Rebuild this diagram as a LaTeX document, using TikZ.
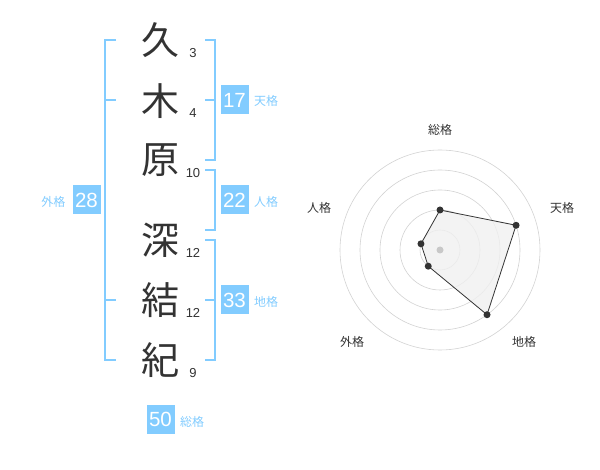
\documentclass[tikz,border=0pt]{standalone}
\usepackage{fontspec}
\usetikzlibrary{calc}
\setmainfont{Liberation Sans}
\newfontfamily\jp{Noto Sans CJK JP}
\definecolor{skyb}{HTML}{82CCFF}
\definecolor{dark}{HTML}{333333}
\definecolor{ring}{HTML}{D2D2D2}
\definecolor{centerdot}{HTML}{C8C8C8}
\definecolor{polyfill}{HTML}{F0F0F0}
\begin{document}
\begin{tikzpicture}[x=1pt,y=-1pt,
  kanji/.style={font=\jp\fontsize{38}{38}\selectfont, text=dark, inner sep=0pt},
  strokes/.style={font=\fontsize{13}{13}\selectfont, text=dark, inner sep=0pt},
  bracketline/.style={draw=skyb, line width=2pt},
  valbox/.style={fill=skyb, text=white, minimum width=28pt, minimum height=29pt, inner sep=0pt, font=\fontsize{20.5}{20.5}\selectfont},
  caption/.style={text=skyb, font=\jp\fontsize{12}{12}\selectfont, inner sep=0pt},
  axislabel/.style={text=dark, font=\jp\fontsize{12}{12}\selectfont, inner sep=0pt},
  ringline/.style={draw=ring, line width=0.6pt},
  datadot/.style={circle, fill=dark, inner sep=0pt, minimum size=7pt}]
\useasboundingbox (0,0) rectangle (600,470);
% kanji
\node[kanji] (k1) at (160,40) {久};
\node[kanji] (k2) at (160,101) {木};
\node[kanji] (k3) at (160,160) {原};
\node[kanji] (k4) at (160,240) {深};
\node[kanji] (k5) at (160,300) {結};
\node[kanji] (k6) at (160,360) {紀};
% stroke counts
\node[strokes] (s1) at (193,53) {3};
\node[strokes] (s2) at (193,113) {4};
\node[strokes] (s3) at (193,173) {10};
\node[strokes] (s4) at (193,253) {12};
\node[strokes] (s5) at (193,313) {12};
\node[strokes] (s6) at (193,373) {9};
% brackets
\coordinate (la) at (116,40); \coordinate (lb) at (105,40);
\coordinate (lc) at (105,360); \coordinate (ld) at (116,360);
\draw[bracketline] (la) -- (lb) -- (lc) -- (ld);
\coordinate (lm1a) at (105,100); \coordinate (lm1b) at (116,100);
\coordinate (lm2a) at (105,300); \coordinate (lm2b) at (116,300);
\draw[bracketline] (lm1a) -- (lm1b);
\draw[bracketline] (lm2a) -- (lm2b);
% ten
\coordinate (ta) at (205,40); \coordinate (tb) at (215,40);
\coordinate (tc) at (215,160); \coordinate (td) at (205,160);
\draw[bracketline] (ta) -- (tb) -- (tc) -- (td);
\coordinate (tma) at (205,100); \coordinate (tmb) at (215,100);
\draw[bracketline] (tma) -- (tmb);
% jin
\coordinate (ja) at (205,170); \coordinate (jb) at (215,170);
\coordinate (jc) at (215,230); \coordinate (jd) at (205,230);
\draw[bracketline] (ja) -- (jb) -- (jc) -- (jd);
% chi
\coordinate (ca) at (205,240); \coordinate (cb) at (215,240);
\coordinate (cc) at (215,360); \coordinate (cd) at (205,360);
\draw[bracketline] (ca) -- (cb) -- (cc) -- (cd);
\coordinate (cma) at (205,300); \coordinate (cmb) at (215,300);
\draw[bracketline] (cma) -- (cmb);
% value boxes
\node[valbox] (v17) at (234.5,100) {17};
\node[caption] (c17) at (266,101) {天格};
\node[valbox] (v22) at (234.5,200) {22};
\node[caption] (c22) at (266,202) {人格};
\node[valbox] (v33) at (234.5,300) {33};
\node[caption] (c33) at (266,302) {地格};
\node[valbox] (v28) at (86.5,200) {28};
\node[caption] (c28) at (53.5,202) {外格};
\node[valbox] (v50) at (160.5,419) {50};
\node[caption] (c50) at (192,422) {総格};
% radar
\coordinate (o) at (440,250);
\foreach \r in {20,40,60,80,100} \draw[ringline] (o) circle[radius=\r];
\coordinate (p1) at ($(o)+(0,-40)$);
\path (o) ++(-18:80) coordinate (p2);
\path (o) ++(54:80) coordinate (p3);
\path (o) ++(126:20) coordinate (p4);
\path (o) ++(198:20) coordinate (p5);
\draw[dark, fill=polyfill, fill opacity=0.8, line width=0.8pt] (p1) -- (p2) -- (p3) -- (p4) -- (p5) -- cycle;
\fill[centerdot] (o) circle[radius=3.5];
\foreach \p in {p1,p2,p3,p4,p5} \node[datadot] at (\p) {};
\node[axislabel] (a1) at (440,130) {総格};
\node[axislabel] (a2) at (562,208) {天格};
\node[axislabel] (a3) at (524,342) {地格};
\node[axislabel] (a4) at (352,342) {外格};
\node[axislabel] (a5) at (319,208) {人格};
\end{tikzpicture}
\end{document}
